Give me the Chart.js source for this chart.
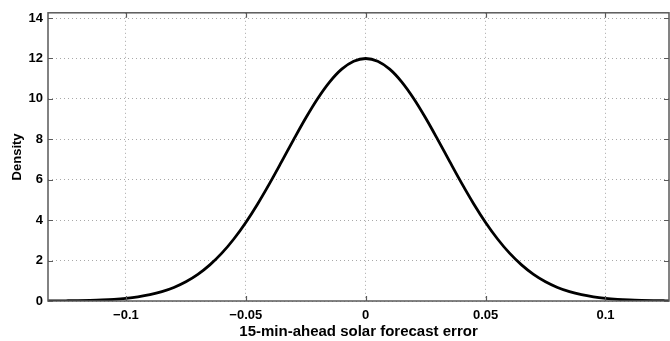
<!DOCTYPE html>
<html>
<head>
<meta charset="utf-8">
<script src="https://cdn.jsdelivr.net/npm/chart.js@4/dist/chart.umd.min.js"></script>
<style>
html,body{margin:0;padding:0;background:#fff;}
#wrap{width:670px;height:341px;position:relative;}
</style>
</head>
<body>
<div id="wrap"><canvas id="c" width="670" height="341"></canvas></div>
<script>
// forecast error values (x)
const errorValues = [-0.135,-0.13,-0.125,-0.12,-0.115,-0.11,-0.105,-0.1,-0.095,-0.09,-0.085,-0.08,-0.075,-0.07,-0.065,-0.06,-0.055,-0.05,-0.045,-0.04,-0.035,-0.03,-0.025,-0.02,-0.015,-0.01,-0.005,0,0.005,0.01,0.015,0.02,0.025,0.03,0.035,0.04,0.045,0.05,0.055,0.06,0.065,0.07,0.075,0.08,0.085,0.09,0.095,0.1,0.105,0.11,0.115,0.12,0.125,0.13,0.135];
// density values
const densityValues = [0.003,0.006,0.011,0.018,0.031,0.051,0.083,0.132,0.205,0.311,0.462,0.670,0.950,1.317,1.786,2.367,3.068,3.887,4.816,5.833,6.907,7.997,9.053,10.020,10.842,11.471,11.865,12.0,11.865,11.471,10.842,10.020,9.053,7.997,6.907,5.833,4.816,3.887,3.068,2.367,1.786,1.317,0.950,0.670,0.462,0.311,0.205,0.132,0.083,0.051,0.031,0.018,0.011,0.006,0.003];
const xTickLabels = [-0.1,-0.05,0,0.05,0.1];
const yTickLabels = [0,2,4,6,8,10,12,14];
const xAxisTitle = '15-min-ahead solar forecast error';
const yAxisTitle = 'Density';

const points = errorValues.map((x,i)=>({x:x,y:densityValues[i]}));

const boxPlugin = {
  id:'box',
  afterDraw(chart){
    const {ctx, chartArea:a, scales} = chart;
    ctx.save();
    ctx.strokeStyle = '#5a5a5a';
    ctx.lineWidth = 1.5;
    ctx.strokeRect(a.left, a.top, a.right-a.left, a.bottom-a.top);
    ctx.lineWidth = 1.2;
    ctx.beginPath();
    const tl = 5;
    xTickLabels.forEach(v=>{
      const px = Math.round(scales.x.getPixelForValue(v))+0.5;
      ctx.moveTo(px,a.bottom); ctx.lineTo(px,a.bottom-tl);
      ctx.moveTo(px,a.top); ctx.lineTo(px,a.top+tl);
    });
    yTickLabels.forEach(v=>{
      const py = Math.round(scales.y.getPixelForValue(v))+0.5;
      ctx.moveTo(a.left,py); ctx.lineTo(a.left+tl,py);
      ctx.moveTo(a.right,py); ctx.lineTo(a.right-tl,py);
    });
    ctx.stroke();
    ctx.restore();
  }
};

new Chart(document.getElementById('c'),{
  type:'line',
  data:{datasets:[{
    data:points,
    borderColor:'#000',
    borderWidth:2.8,
    pointRadius:0,
    fill:false,
    tension:0.4,
    cubicInterpolationMode:'monotone'
  }]},
  options:{
    responsive:false,
    animation:false,
    devicePixelRatio:1,
    layout:{padding:{top:9,right:1,left:0,bottom:0}},
    plugins:{legend:{display:false},tooltip:{enabled:false}},
    scales:{
      x:{
        type:'linear',
        min:-0.1325,max:0.1265,
        afterBuildTicks(s){ s.ticks = xTickLabels.map(v=>({value:v})); },
        afterFit(s){ s.height = 40; },
        ticks:{
          color:'#000',
          font:{family:'Liberation Sans, Arial, sans-serif',size:13,weight:'bold'},
          padding:7,
          maxRotation:0,
          callback:(v)=> v<0 ? '\u2212'+String(Math.abs(v)) : String(v)
        },
        grid:{color:'#a8a8a8',lineWidth:1,drawTicks:false},
        border:{display:false,dash:[1,3]},
        title:{display:true,text:xAxisTitle,color:'#000',
          font:{family:'Liberation Sans, Arial, sans-serif',size:15,weight:'bold'},
          padding:{top:0,bottom:0}}
      },
      y:{
        type:'linear',
        min:0,max:14.26,
        afterBuildTicks(s){ s.ticks = yTickLabels.map(v=>({value:v})); },
        afterFit(s){ s.width = 48; },
        ticks:{
          color:'#000',
          font:{family:'Liberation Sans, Arial, sans-serif',size:13,weight:'bold'},
          padding:5
        },
        grid:{color:'#a8a8a8',lineWidth:1,drawTicks:false},
        border:{display:false,dash:[1,3]},
        title:{display:true,text:yAxisTitle,color:'#000',
          font:{family:'Liberation Sans, Arial, sans-serif',size:13,weight:'bold'},
          padding:{top:10,bottom:0}}
      }
    }
  },
  plugins:[boxPlugin]
});
</script>
</body>
</html>
